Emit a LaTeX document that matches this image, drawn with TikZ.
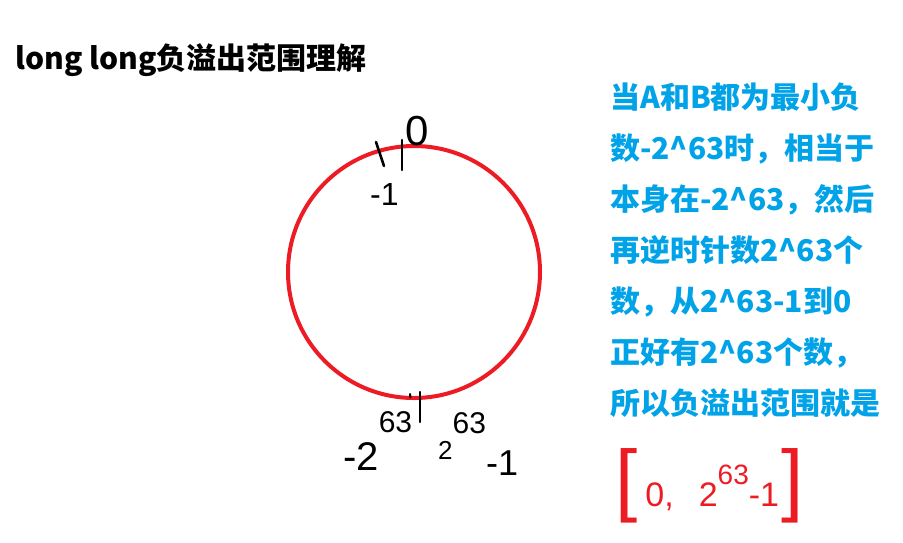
\documentclass[tikz,border=0pt]{standalone}
\usepackage{fontspec}
\setmainfont{Liberation Sans}
\newfontfamily\cjk{Noto Sans CJK SC}
\definecolor{paintred}{RGB}{237,28,36}
\definecolor{paintblue}{RGB}{0,162,232}

\begin{document}
\begin{tikzpicture}[x=1pt, y=-1pt,
    wheel/.style={draw=paintred, line width=4pt, circle, minimum size=252pt, inner sep=0pt},
    hstroke/.style={line width=2.6pt, line cap=round},
    hand/.style={inner sep=0pt, anchor=base west},
    note/.style={font=\cjk\bfseries\fontsize{30}{51}\selectfont, text=paintblue, align=left, inner sep=0pt, anchor=base west}
]
\fill[white] (0,0) rectangle (903,542);
\useasboundingbox (0,0) rectangle (903,542);

\node[hand, font=\cjk\bfseries\fontsize{30}{30}\selectfont] (title) at (15,69) {long long负溢出范围理解};

% the ring of values
\node[wheel] (ring) at (414,272) {};
\draw[hstroke] (376,142) -- (384,166);
\draw[hstroke] (402,140) -- (402,170);
\draw[hstroke] (420,392) -- (420,422);
\draw[hstroke, line width=2pt] (410,394) -- (410.5,397.5);

\node[hand, font=\fontsize{42}{42}\selectfont] (zero) at (405,145) {0};
\node[hand, font=\fontsize{32}{32}\selectfont] (negone) at (370,205) {-1};
\node[hand, font=\fontsize{40}{40}\selectfont] (minval) at (343,470)
    {-2\raisebox{38pt}{\fontsize{30}{30}\selectfont 63}};
\node[hand, font=\fontsize{26}{26}\selectfont] (maxval) at (438,459)
    {2\raisebox{26pt}{\fontsize{30}{30}\selectfont 63}\raisebox{-16pt}{\fontsize{36}{36}\selectfont -1}};

% explanation (base = last line)
\node[note] (expl) at (610,414) {当A和B都为最小负\\数-2\^{}63时，相当于\\本身在-2\^{}63，然后\\再逆时针数2\^{}63个\\数，从2\^{}63-1到0\\正好有2\^{}63个数，\\所以负溢出范围就是};

\node[hand, text=paintred, font=\fontsize{34}{34}\selectfont] (range) at (615,506)
    {{\fontsize{80}{80}\selectfont[}\hspace{8pt}0,\hspace{25pt}2\raisebox{22pt}{\fontsize{28}{28}\selectfont 63}-1\hspace{2pt}{\fontsize{80}{80}\selectfont]}};
\end{tikzpicture}
\end{document}
